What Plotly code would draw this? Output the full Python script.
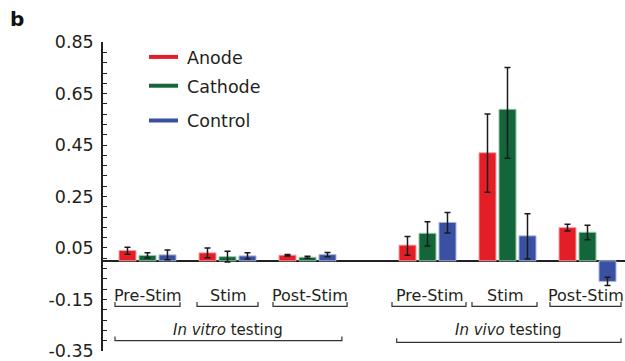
import plotly.graph_objects as go

# Groups of the experiment and their mean responses (± error)
groups = ["Pre-Stim", "Stim", "Post-Stim", "Pre-Stim", "Stim", "Post-Stim"]
conditions = ["Anode", "Cathode", "Control"]

anode = [0.040, 0.031, 0.022, 0.061, 0.420, 0.129]
anode_up = [0.013, 0.019, 0.003, 0.034, 0.151, 0.013]
anode_down = [0.014, 0.019, 0.003, 0.039, 0.153, 0.013]
cathode = [0.021, 0.016, 0.014, 0.107, 0.589, 0.111]
cathode_up = [0.010, 0.021, 0.004, 0.045, 0.162, 0.027]
cathode_down = [0.010, 0.021, 0.004, 0.049, 0.190, 0.029]
control = [0.023, 0.019, 0.024, 0.149, 0.097, -0.080]
control_up = [0.019, 0.012, 0.008, 0.039, 0.086, 0.016]
control_down = [0.019, 0.012, 0.008, 0.041, 0.090, 0.016]

tick_vals = [0.85, 0.65, 0.45, 0.25, 0.05, -0.15, -0.35]
tick_text = ["0.85", "0.65", "0.45", "0.25", "0.05", "-0.15", "-0.35"]

colors = ["#e31e26", "#12663a", "#3a51a3"]
edge_colors = ["#f5a0a3", "#9cc4a8", "#a8b4db"]

# layout of the numeric x axis: group centres and bar offsets
centers = [0, 4, 8, 14, 18, 22]
offsets = [-1, 0, 1]
bar_w = 0.85

W, H = 625, 361
ML, MR, MT, MB = 103, 0, 42, 8
X0, X1 = -2.225, 23.875
Y0, Y1 = -0.3505, 0.8505
TXT = "#231f20"
FONT = "DejaVu Sans"


def xp(px):
    return (px - ML) / (W - ML - MR)


def yp(py):
    return (H - MB - py) / (H - MT - MB)


fig = go.Figure()
series = [(anode, anode_up, anode_down),
          (cathode, cathode_up, cathode_down),
          (control, control_up, control_down)]
for i, (vals, up, down) in enumerate(series):
    fig.add_trace(go.Bar(
        x=[c + offsets[i] for c in centers],
        y=vals,
        width=bar_w,
        name=conditions[i],
        marker=dict(color=colors[i], line=dict(color=edge_colors[i], width=1)),
        error_y=dict(type="data", array=up, arrayminus=down, symmetric=False,
                     visible=True, color="#1a1a1a", thickness=1.5, width=3),
        showlegend=False,
    ))

shapes = []
annotations = []

# group brackets and labels
group_spans = [(-1.625, 1.625), (2.475, 5.525), (6.275, 9.98),
               (12.225, 15.925), (16.225, 19.475), (20.125, 23.675)]
label_x = [0, 4, 8.1, 14.1, 17.85, 21.9]
yb, yt = -0.177, -0.160
for (a, b), lx, g in zip(group_spans, label_x, groups):
    shapes.append(dict(type="path", xref="x", yref="y",
                       path=f"M{a},{yt} L{a},{yb} L{b},{yb} L{b},{yt}",
                       line=dict(color="#333333", width=1.2)))
    annotations.append(dict(x=lx, y=-0.134, xref="x", yref="y", text=g,
                            showarrow=False, font=dict(size=16, color=TXT, family=FONT)))

# testing-condition brackets
big_spans = [(-1.625, 9.72), (12.46, 23.675)]
big_labels = ["<i>In vitro</i> testing", "<i>In vivo</i> testing"]
big_y = [-0.310, -0.317]
for (a, b), lab, by in zip(big_spans, big_labels, big_y):
    shapes.append(dict(type="path", xref="x", yref="y",
                       path=f"M{a},{by + 0.016} L{a},{by} L{b},{by} L{b},{by + 0.016}",
                       line=dict(color="#333333", width=1.2)))
    annotations.append(dict(x=(a + b) / 2, y=-0.270, xref="x", yref="y", text=lab,
                            showarrow=False, font=dict(size=15, color=TXT, family=FONT)))

# legend
leg_y = [57, 86, 121]
for name, col, py in zip(conditions, colors, leg_y):
    shapes.append(dict(type="line", xref="paper", yref="paper",
                       x0=xp(149), x1=xp(178), y0=yp(py), y1=yp(py),
                       line=dict(color=col, width=4)))
    annotations.append(dict(x=xp(185), y=yp(py + 1), xref="paper", yref="paper",
                            text=name, showarrow=False, xanchor="left", yanchor="middle",
                            font=dict(size=17.5, color=TXT, family=FONT)))

# panel letter
annotations.append(dict(x=xp(8), y=yp(19), xref="paper", yref="paper", text="<b>b</b>",
                        showarrow=False, xanchor="left", yanchor="middle",
                        font=dict(size=20, color="#111111", family=FONT)))

minor_vals = [round(-0.35 + 0.04 * k, 2) for k in range(31)]

fig.update_layout(
    width=W, height=H,
    margin=dict(l=ML, r=MR, t=MT, b=MB),
    paper_bgcolor="white", plot_bgcolor="white",
    barmode="overlay",
    font=dict(family=FONT, color=TXT),
    shapes=shapes,
    annotations=annotations,
    xaxis=dict(range=[X0, X1], visible=False, fixedrange=True),
    yaxis=dict(range=[Y0, Y1], tickvals=tick_vals, ticktext=tick_text,
               ticks="inside", ticklen=4, tickwidth=1, tickcolor="#222",
               showline=True, linecolor="#222", linewidth=1.5,
               showgrid=False, zeroline=True, zerolinecolor="#222", zerolinewidth=1.5,
               tickfont=dict(size=17.5, color=TXT, family=FONT),
               ticklabelstandoff=4, ticklabeloverflow="allow",
               minor=dict(tickvals=minor_vals, ticks="inside", ticklen=4,
                          tickwidth=1, tickcolor="#222", showgrid=False)),
)

fig.write_html("out.html")
